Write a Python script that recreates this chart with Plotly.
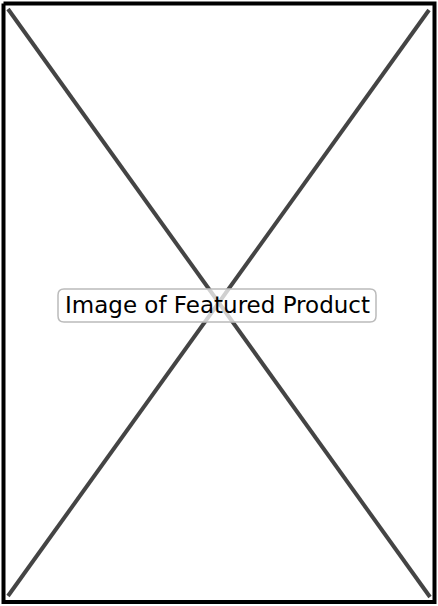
import plotly.graph_objects as go

# placeholder frame and the two diagonals (pixel space of the 438x606 page)
frame_x = [3.5, 434.5, 434.5, 3.5, 3.5]
frame_y = [3.5, 3.5, 602, 602, 3.5]
diag1_x = [8, 430]
diag1_y = [9, 597]
diag2_x = [429, 8]
diag2_y = [10, 596]

label = "Image of Featured Product"
label_x = 217
label_y = 305

W, H = 438, 606

fig = go.Figure()

fig.add_trace(go.Scatter(x=diag1_x, y=diag1_y, mode="lines",
                         line=dict(color="#444444", width=4), hoverinfo="skip"))
fig.add_trace(go.Scatter(x=diag2_x, y=diag2_y, mode="lines",
                         line=dict(color="#444444", width=4), hoverinfo="skip"))
fig.add_trace(go.Scatter(x=frame_x, y=frame_y, mode="lines",
                         line=dict(color="#000000", width=4), hoverinfo="skip"))

# rounded label box, half see-through so the X shows faintly behind it
x0, x1, y0, y1, r = 58, 376, 289, 322, 6
path = (f"M {x0+r},{y0} L {x1-r},{y0} Q {x1},{y0} {x1},{y0+r} "
        f"L {x1},{y1-r} Q {x1},{y1} {x1-r},{y1} L {x0+r},{y1} "
        f"Q {x0},{y1} {x0},{y1-r} L {x0},{y0+r} Q {x0},{y0} {x0+r},{y0} Z")
fig.add_shape(type="path", path=path, xref="x", yref="y", layer="above",
              fillcolor="rgba(255,255,255,0.75)",
              line=dict(color="#bbbbbb", width=1.5))

fig.add_annotation(x=label_x, y=label_y, text=label, showarrow=False,
                   font=dict(family="DejaVu Sans", size=23, color="#000000"))

fig.update_layout(
    width=W, height=H,
    margin=dict(l=0, r=0, t=0, b=0),
    paper_bgcolor="white", plot_bgcolor="white",
    showlegend=False,
    xaxis=dict(range=[0, W], visible=False, fixedrange=True),
    yaxis=dict(range=[H, 0], visible=False, fixedrange=True),
)

# drop the browser's default body margin so the figure sits at the page corner
fig.write_html("out.html", config={"displayModeBar": False},
               post_script="document.body.style.margin='0';"
                           "document.body.style.overflow='hidden';")
